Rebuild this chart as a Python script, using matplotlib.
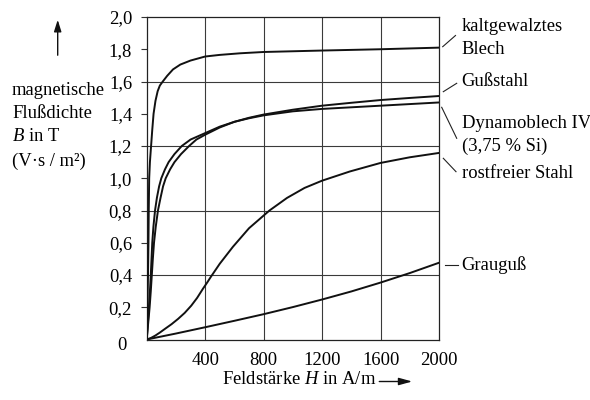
import matplotlib
matplotlib.use("Agg")
import matplotlib.pyplot as plt

plt.rcParams['font.family'] = ['Liberation Serif', 'DejaVu Serif']
plt.rcParams['mathtext.fontset'] = 'custom'
plt.rcParams['mathtext.rm'] = 'Liberation Serif'
plt.rcParams['mathtext.it'] = 'Liberation Serif:italic'

# B-H curves (H in A/m, B in T)
kalt_h = [0, 5, 9, 12, 14, 17, 22, 30, 38, 47, 60, 75, 90, 110, 140, 180, 230, 300, 400, 500, 640,
          800, 1200, 1600, 2000]
kalt_b = [0, 0.2, 0.4, 0.6, 0.8, 1.0, 1.1, 1.2, 1.3, 1.4, 1.48, 1.54, 1.575, 1.6, 1.635, 1.675, 1.705,
          1.73, 1.755, 1.765, 1.775, 1.783, 1.792, 1.80, 1.81]

dyn_h = [0, 8, 15, 22, 28, 33, 38, 46, 57, 70, 85, 100, 125, 150, 190, 240, 300, 400, 500, 600, 700,
         800, 1000, 1200, 1400, 1600, 1800, 2000]
dyn_b = [0, 0.1, 0.2, 0.3, 0.4, 0.5, 0.6, 0.7, 0.8, 0.88, 0.95, 1.0, 1.055, 1.1, 1.15, 1.2, 1.24, 1.28,
         1.32, 1.35, 1.372, 1.39, 1.415, 1.43, 1.44, 1.45, 1.46, 1.47]

guss_h = [0, 10, 20, 28, 35, 42, 50, 62, 77, 95, 112, 130, 160, 190, 235, 290, 340, 400, 500, 600, 700,
          800, 1000, 1200, 1400, 1600, 1800, 2000]
guss_b = [0, 0.1, 0.2, 0.3, 0.4, 0.5, 0.6, 0.7, 0.8, 0.88, 0.95, 1.0, 1.055, 1.1, 1.15, 1.2, 1.24, 1.27,
          1.315, 1.35, 1.375, 1.395, 1.425, 1.45, 1.468, 1.485, 1.498, 1.51]

rost_h = [0, 30, 60, 90, 125, 170, 215, 260, 305, 345, 385, 415, 440, 500, 590, 700, 840, 960, 1080,
          1200, 1390, 1600, 1800, 2000]
rost_b = [0, 0.01, 0.025, 0.043, 0.066, 0.095, 0.128, 0.165, 0.21, 0.258, 0.315, 0.355, 0.39, 0.47,
          0.575, 0.69, 0.80, 0.878, 0.94, 0.985, 1.042, 1.095, 1.13, 1.157]

grau_h = [0, 200, 400, 600, 800, 1000, 1200, 1400, 1600, 1800, 2000]
grau_b = [0, 0.037, 0.076, 0.116, 0.157, 0.201, 0.248, 0.298, 0.353, 0.412, 0.476]

x_ticks = [400, 800, 1200, 1600, 2000]
y_ticks = [0.2, 0.4, 0.6, 0.8, 1.0, 1.2, 1.4, 1.6, 1.8, 2.0]
y_labels = ['0,2', '0,4', '0,6', '0,8', '1,0', '1,2', '1,4', '1,6', '1,8', '2,0']

FS = 13.4
W, H = 590, 400
fig = plt.figure(figsize=(W / 100, H / 100), dpi=100)
ax = fig.add_axes([146.7 / W, 1 - 339.5 / H, (439 - 146.7) / W, (339.5 - 17) / H])

for hx in x_ticks[:-1]:
    ax.axvline(hx, color='#3a3a3a', lw=0.8, zorder=1)
for by in [0.4, 0.8, 1.2, 1.6]:
    ax.axhline(by, color='#3a3a3a', lw=0.8, zorder=1)

for hh, bb in [(kalt_h, kalt_b), (dyn_h, dyn_b), (guss_h, guss_b), (rost_h, rost_b), (grau_h, grau_b)]:
    ax.plot(hh, bb, color='#111111', lw=1.4, zorder=3, solid_capstyle='round', solid_joinstyle='round')

ax.set_xlim(0, 2000)
ax.set_ylim(0, 2.0)
ax.set_xticks(x_ticks)
ax.set_xticklabels([str(v) for v in x_ticks], fontsize=FS)
ax.set_yticks(y_ticks)
ax.set_yticklabels(y_labels, fontsize=FS)
ax.tick_params(axis='x', length=0, pad=9)
ax.tick_params(axis='y', length=4.5, width=0.8, pad=6, color='#333333')
for s in ax.spines.values():
    s.set_linewidth(0.9)
    s.set_color('#222222')

def fx(px):
    return px / W

def fy(py):
    return 1 - py / H

fig.text(fx(126.5), fy(345), '0', fontsize=FS, ha='right', va='center')

# y label block with arrow
for txt, py in [('magnetische', 90.5), ('Flußdichte', 113), ('$B$ in T', 136), ('(V·s / m²)', 161)]:
    fig.text(fx(12), fy(py), txt, fontsize=FS, ha='left', va='center')
fig.patches.append(matplotlib.patches.FancyArrowPatch(
    (fx(57.7), fy(58)), (fx(57.7), fy(17)), transform=fig.transFigure,
    arrowstyle='-|>,head_length=7,head_width=2.2', lw=1.0, color='#111111', mutation_scale=1))

# x label with arrow
fig.text(fx(222), fy(379), 'Feldstärke $H$ in A/m', fontsize=FS, ha='left', va='center')
fig.patches.append(matplotlib.patches.FancyArrowPatch(
    (fx(376.5), fy(381.5)), (fx(415), fy(381.5)), transform=fig.transFigure,
    arrowstyle='-|>,head_length=8,head_width=2.2', lw=1.0, color='#111111', mutation_scale=1))

# curve names with leader lines
names = [('kaltgewalztes', 26.7), ('Blech', 50), ('Gußstahl', 81.7), ('Dynamoblech IV', 123.3),
         ('(3,75 % Si)', 146.7), ('rostfreier Stahl', 173.3), ('Grauguß', 265)]
for txt, py in names:
    fig.text(fx(461.5), fy(py), txt, fontsize=FS, ha='left', va='center')

leaders = [((442.7, 46.7), (455.5, 35.5)), ((443.3, 91.7), (456.7, 83.3)),
           ((441.7, 107.3), (456.7, 138.3)), ((443.3, 158.3), (456, 171.7)),
           ((445, 265), (458.3, 265))]
for (x0, y0), (x1, y1) in leaders:
    fig.add_artist(matplotlib.lines.Line2D([fx(x0), fx(x1)], [fy(y0), fy(y1)],
                                           transform=fig.transFigure, color='#222222', lw=0.8))

fig.savefig('out.png', dpi=100)
